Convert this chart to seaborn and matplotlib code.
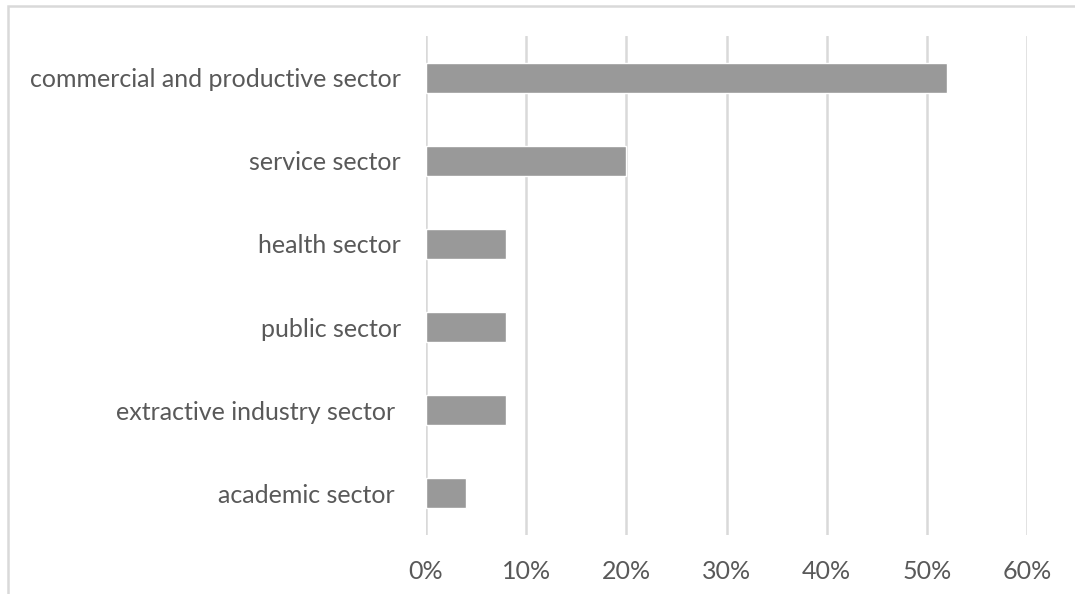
import matplotlib
matplotlib.use("Agg")
import matplotlib.pyplot as plt
import seaborn as sns
import pandas as pd
from matplotlib.patches import Rectangle
from matplotlib.ticker import PercentFormatter

# Data
sectors = ["commercial and productive sector", "service sector", "health sector",
           "public sector", "extractive industry sector ", "academic sector "]
shares = [0.52, 0.20, 0.08, 0.08, 0.08, 0.04]
x_ticks = [0, 0.1, 0.2, 0.3, 0.4, 0.5, 0.6]

# Colors and style
c_bar = "#999999"
c_grid = "#d9d9d9"
c_text = "#595959"

sns.set_style("white")
plt.rcParams['font.family'] = ['Lato', 'DejaVu Sans']

df = pd.DataFrame({"sector": sectors, "share": shares})

fig = plt.figure(figsize=(10.75, 5.94), dpi=100)
ax = fig.add_axes([426/1075, 1 - 535/594, (1027 - 426)/1075, (535 - 36)/594])

sns.barplot(data=df, x="share", y="sector", orient="h", color=c_bar,
            width=0.36, saturation=1, ax=ax)

ax.set_xlim(0, 0.6)
ax.set_ylim(5.5, -0.5)
ax.set_xticks(x_ticks)
ax.xaxis.set_major_formatter(PercentFormatter(1.0, decimals=0))
ax.grid(axis="x", color=c_grid, linewidth=1.8)
ax.set_axisbelow(True)
for s in ax.spines.values():
    s.set_visible(False)
ax.set_xlabel("")
ax.set_ylabel("")
ax.tick_params(axis="both", length=0, labelsize=18, labelcolor=c_text)
ax.tick_params(axis="y", pad=18)
ax.tick_params(axis="x", pad=18)

# chart border (cropped at right and bottom)
fig.patches.append(Rectangle((8/1075, -0.1), 1.2, 1 - 6/594 + 0.1,
                             transform=fig.transFigure, fill=False,
                             edgecolor=c_grid, linewidth=1.8))

fig.savefig("out.png", dpi=100)
